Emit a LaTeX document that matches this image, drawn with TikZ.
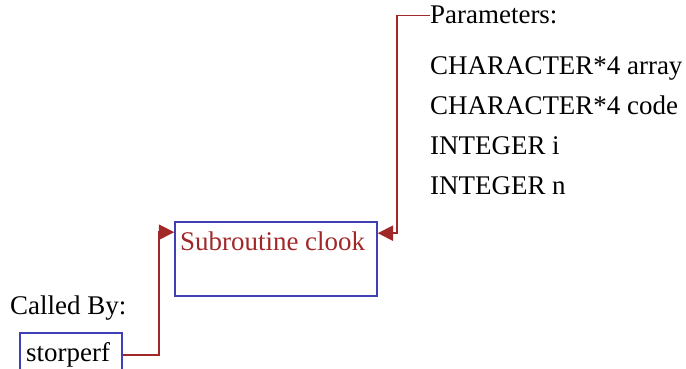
\documentclass[tikz,border=0pt]{standalone}
\usepackage{fontspec}
\setmainfont{Liberation Serif}
\usepackage{tikz}
\usetikzlibrary{arrows.meta,calc}
\definecolor{boxblue}{HTML}{4040B4}
\definecolor{callred}{HTML}{A02828}
\tikzset{
  routinebox/.style={draw=boxblue,line width=1.4pt,minimum width=6.06cm,
    minimum height=2.22cm,inner sep=0pt},
  callerbox/.style={draw=boxblue,line width=1.4pt,minimum width=3.06cm,
    minimum height=1.32cm,inner sep=0pt},
  plaintext/.style={inner sep=0pt,anchor=base west},
  callflow/.style={-{Triangle[length=4.6mm,width=4.6mm]},line width=1.4pt,draw=callred}
}

\begin{document}
\begin{tikzpicture}[x=0.03cm,y=-0.03cm,font=\fontsize{23}{27}\selectfont]
\useasboundingbox (0,0) rectangle (686,369);
% the routine and its caller
\node[routinebox] (clook) at (276,259) {};
\node[plaintext,text=callred] (clookname) at (180,251) {Subroutine clook};
\node[plaintext] (calledby) at (10,315) {Called By:};
\node[callerbox] (storperf) at (71,355) {};
\node[plaintext] (storperfname) at (26,362) {storperf};
% argument list
\node[plaintext] (params) at (430,24) {Parameters:};
\node[plaintext] (parama) at (430,75) {CHARACTER*4 array};
\node[plaintext] (paramb) at (430,115) {CHARACTER*4 code};
\node[plaintext] (paramc) at (430,155) {INTEGER i};
\node[plaintext] (paramd) at (430,195) {INTEGER n};
\coordinate (clookin) at ($(clook.north west)+(0,11)$);
\coordinate (clookarg) at ($(clook.north east)+(0,12)$);
\draw[callflow] (storperf.east) -- ++(36,0) |- (clookin);
\draw[callflow] (params.west) -- ++(-33,0) |- (clookarg);
\end{tikzpicture}
\end{document}
